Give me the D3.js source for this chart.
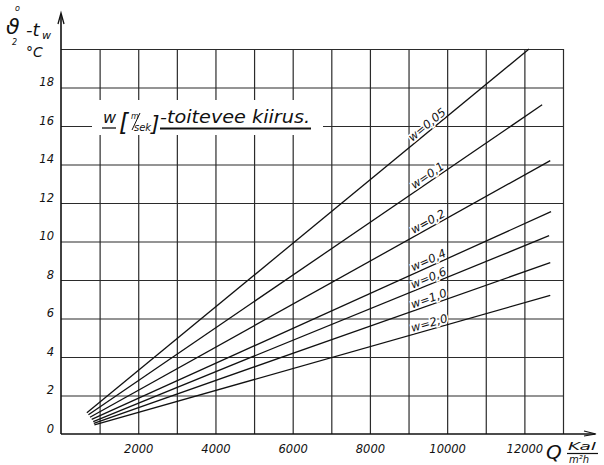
<!doctype html>
<html>
<head>
  <title>w - toitevee kiirus</title>
  <meta charset="UTF-8">
  <script src="https://d3js.org/d3.v7.min.js"></script>
  <style>
    body { margin: 0; background: #fff; }
    text { font-family: "DejaVu Sans", sans-serif; font-style: italic; fill: #111; }
  </style>
</head>
<body>
  <div id="svg_area"></div>

<script>
// values - every curve is a straight segment
var speeds = ["w=0,05", "w=0,1", "w=0,2", "w=0,4", "w=0,6", "w=1,0", "w=2,0"];
var qStart = [670, 710, 750, 795, 835, 850, 865];
var tStart = [1.1, 1.0, 0.87, 0.76, 0.64, 0.55, 0.47];
var qEnd = [12120, 12460, 12670, 12690, 12640, 12670, 12670];
var tEnd = [20, 17.1, 14.2, 11.55, 10.3, 8.9, 7.2];

var qTicks = [2000, 4000, 6000, 8000, 10000, 12000];
var tTicks = [0, 2, 4, 6, 8, 10, 12, 14, 16, 18];
var qGrid = d3.range(1000, 13001, 1000);
var tGrid = d3.range(2, 21, 2);

function drawChart(){

  var svg = d3.select("#svg_area").append("svg")
      .attr("width", 604)
      .attr("height", 465);

  // scales
  var x = d3.scaleLinear().domain([0, 13000]).range([61, 563]);
  var y = d3.scaleLinear().domain([0, 20]).range([434, 49]);

  // grid - vertical
  var gx = svg.append("g")
      .attr("transform", "translate(0," + y(0) + ")")
      .call(d3.axisBottom(x).tickValues(qGrid).tickSize(-(y(0) - y(20))).tickFormat(""));
  gx.select(".domain").remove();

  // grid - horizontal
  var gy = svg.append("g")
      .attr("transform", "translate(" + x(0) + ",0)")
      .call(d3.axisLeft(y).tickValues(tGrid).tickSize(-(x(13000) - x(0))).tickFormat(""));
  gy.select(".domain").remove();

  svg.selectAll(".tick line")
      .attr("stroke", "#2b2b2b")
      .attr("stroke-width", 1.2);

  // tick labels
  var lx = svg.append("g")
      .attr("transform", "translate(0," + y(0) + ")")
      .call(d3.axisBottom(x).tickValues(qTicks).tickSize(0).tickPadding(11).tickFormat(d3.format("d")));
  lx.select(".domain").remove();

  var ly = svg.append("g")
      .attr("transform", "translate(" + x(0) + ",0)")
      .call(d3.axisLeft(y).tickValues(tTicks).tickSize(0).tickPadding(7));
  ly.select(".domain").remove();
  ly.selectAll("text").attr("dy", "-0.15em");

  svg.selectAll("g text")
      .attr("font-family", "DejaVu Sans")
      .attr("font-style", "italic")
      .attr("font-size", 11.5)
      .attr("fill", "#111");

  // axes with arrows
  svg.append("line")
      .attr("x1", x(0)).attr("y1", y(0))
      .attr("x2", x(0)).attr("y2", 14)
      .attr("stroke", "#111").attr("stroke-width", 1.6);
  svg.append("path")
      .attr("d", "M" + (x(0) - 3) + ",24 L" + x(0) + ",13 L" + (x(0) + 3) + ",24")
      .attr("fill", "none").attr("stroke", "#111").attr("stroke-width", 1.3);

  svg.append("line")
      .attr("x1", x(0)).attr("y1", y(0))
      .attr("x2", 595).attr("y2", y(0))
      .attr("stroke", "#111").attr("stroke-width", 1.6);
  svg.append("path")
      .attr("d", "M584," + (y(0) - 3) + " L596," + y(0) + " L584," + (y(0) + 2))
      .attr("fill", "none").attr("stroke", "#111").attr("stroke-width", 1.2);

  // the w lines
  var idx = d3.range(speeds.length);
  svg.selectAll(".wline")
      .data(idx)
      .enter()
      .append("line")
      .attr("class", "wline")
      .attr("x1", function(i){ return x(qStart[i]); })
      .attr("y1", function(i){ return y(tStart[i]); })
      .attr("x2", function(i){ return x(qEnd[i]); })
      .attr("y2", function(i){ return y(tEnd[i]); })
      .attr("stroke", "#111")
      .attr("stroke-width", 1.3);

  // labels written along each line, all around the same Q
  var labQ = x.invert(431);
  svg.selectAll(".wlab")
      .data(idx)
      .enter()
      .append("text")
      .attr("class", "wlab")
      .attr("transform", function(i){
        var t = tStart[i] + (tEnd[i] - tStart[i]) * (labQ - qStart[i]) / (qEnd[i] - qStart[i]);
        var ang = Math.atan2(y(tEnd[i]) - y(tStart[i]), x(qEnd[i]) - x(qStart[i])) * 180 / Math.PI;
        return "translate(" + x(labQ) + "," + y(t) + ") rotate(" + ang + ")";
      })
      .attr("dy", -2.5)
      .attr("text-anchor", "middle")
      .attr("font-size", 11.5)
      .attr("stroke", "#fff")
      .attr("stroke-width", 3)
      .attr("paint-order", "stroke")
      .text(function(i){ return speeds[i]; });

  // legend box over the grid
  svg.append("rect")
      .attr("x", 92).attr("y", 100)
      .attr("width", 231).attr("height", 35)
      .attr("fill", "#fff");

  svg.append("text").attr("x", 103).attr("y", 123).attr("font-size", 16).text("w");
  svg.append("line").attr("x1", 102).attr("y1", 128).attr("x2", 116).attr("y2", 128)
      .attr("stroke", "#111").attr("stroke-width", 1.3);
  svg.append("text").attr("x", 119).attr("y", 131).attr("font-size", 24).attr("font-style", "normal").text("[");
  svg.append("text").attr("x", 131).attr("y", 119).attr("font-size", 8).text("m");
  svg.append("line").attr("x1", 140).attr("y1", 113).attr("x2", 132).attr("y2", 130)
      .attr("stroke", "#111").attr("stroke-width", 1);
  svg.append("text").attr("x", 134).attr("y", 131).attr("font-size", 10).text("sek");
  svg.append("text").attr("x", 151).attr("y", 131).attr("font-size", 22).attr("font-style", "normal").text("]");
  svg.append("text").attr("x", 160).attr("y", 123).attr("font-size", 17)
      .attr("textLength", 150).attr("lengthAdjust", "spacingAndGlyphs")
      .text("-toitevee kiirus.");
  svg.append("line").attr("x1", 160).attr("y1", 128.5).attr("x2", 311).attr("y2", 128.5)
      .attr("stroke", "#111").attr("stroke-width", 2);

  // y title
  svg.append("text").attr("x", 6).attr("y", 34).attr("font-size", 22).text("ϑ");
  svg.append("text").attr("x", 15).attr("y", 11).attr("font-size", 8).attr("font-style", "normal").text("o");
  svg.append("text").attr("x", 12).attr("y", 45).attr("font-size", 8).text("2");
  svg.append("text").attr("x", 26).attr("y", 36).attr("font-size", 18).text("-t");
  svg.append("text").attr("x", 42).attr("y", 39).attr("font-size", 11).text("w");
  svg.append("text").attr("x", 26).attr("y", 57).attr("font-size", 14).text("°C");

  // x title
  svg.append("text").attr("x", 546).attr("y", 459).attr("font-size", 20).text("Q");
  svg.append("text").attr("x", 568).attr("y", 450).attr("font-size", 11)
      .attr("textLength", 28).attr("lengthAdjust", "spacingAndGlyphs").text("Kal");
  svg.append("line").attr("x1", 567).attr("y1", 453.5).attr("x2", 598).attr("y2", 453.5)
      .attr("stroke", "#111").attr("stroke-width", 1.2);
  svg.append("text").attr("x", 569).attr("y", 463).attr("font-size", 10).text("m²h");
}

drawChart();
</script>
</body>
</html>
